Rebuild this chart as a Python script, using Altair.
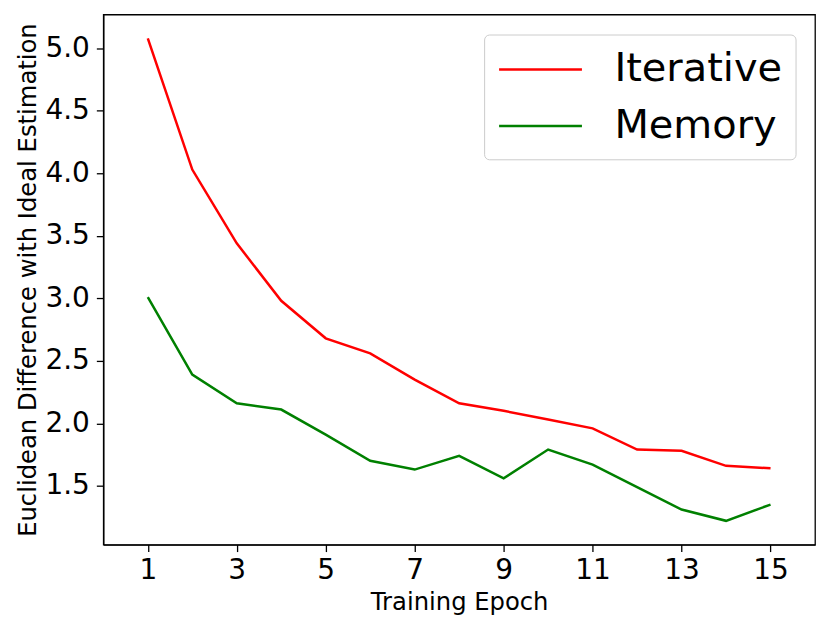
import altair as alt
import pandas as pd

epochs = list(range(1, 16))
iterative = [5.08, 4.03, 3.44, 2.98, 2.68, 2.56, 2.35, 2.16, 2.10, 2.03, 1.96, 1.79, 1.78, 1.66, 1.64]
memory = [3.01, 2.39, 2.16, 2.11, 1.91, 1.70, 1.63, 1.74, 1.56, 1.79, 1.67, 1.49, 1.31, 1.22, 1.35]
series = ["Iterative", "Memory"]
colors = ["#ff0000", "#008000"]
x_ticks = [1, 3, 5, 7, 9, 11, 13, 15]
y_ticks = [1.5, 2.0, 2.5, 3.0, 3.5, 4.0, 4.5, 5.0]

rows = []
for e, a, b in zip(epochs, iterative, memory):
    rows.append({"epoch": e, "value": a, "series": series[0]})
    rows.append({"epoch": e, "value": b, "series": series[1]})
df = pd.DataFrame(rows)

FONT = "DejaVu Sans"

chart = alt.Chart(df).mark_line(strokeWidth=2.5).encode(
    x=alt.X("epoch:Q",
            scale=alt.Scale(domain=[0.0, 16.0], nice=False, zero=False),
            axis=alt.Axis(values=x_ticks, title="Training Epoch", grid=False,
                          labelFontSize=28, titleFontSize=24.3, labelPadding=5,
                          titlePadding=6, tickSize=7, labelFlush=False,
                          titleFontWeight="normal")),
    y=alt.Y("value:Q",
            scale=alt.Scale(domain=[1.03, 5.27], nice=False, zero=False),
            axis=alt.Axis(values=y_ticks, format=".1f",
                          title="Euclidean Difference with Ideal Estimation",
                          grid=False, labelFontSize=28, titleFontSize=24.3,
                          labelPadding=7, titlePadding=4, tickSize=7,
                          labelFlush=False, titleFontWeight="normal")),
    color=alt.Color("series:N",
                    scale=alt.Scale(domain=series, range=colors),
                    legend=alt.Legend(title=None, orient="none",
                                      legendX=381.5, legendY=20,
                                      symbolType="M-2,0H2", symbolSize=1722,
                                      symbolStrokeWidth=2.5, symbolOffset=21.5,
                                      labelOffset=52, labelFontSize=40,
                                      labelFont=FONT, padding=13, rowPadding=14.6,
                                      strokeColor="#cccccc", cornerRadius=5,
                                      fillColor="rgba(255,255,255,0.8)",
                                      labelLimit=400)),
).properties(
    width=713, height=531,
    autosize=alt.AutoSizeParams(type="none"),
    padding={"left": 95.5, "top": 6, "right": 8, "bottom": 80},
).configure(
    font=FONT,
).configure_view(
    stroke="black", strokeWidth=1.3,
).configure_axis(
    domainColor="black", domainWidth=1.3, tickColor="black", tickWidth=1.3,
    labelColor="black", titleColor="black", labelFont=FONT, titleFont=FONT,
)

chart.save("out.html", embed_options={"renderer": "svg", "actions": False})
